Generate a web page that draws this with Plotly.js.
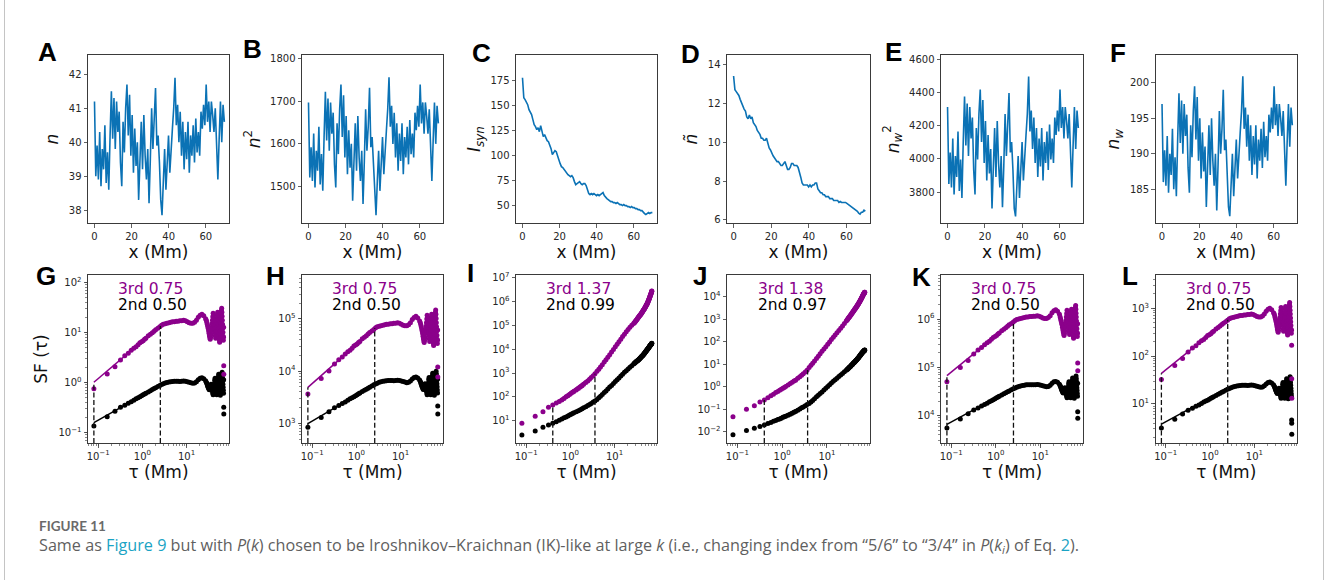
<!DOCTYPE html>
<html><head><meta charset="utf-8">
<script src="https://cdn.plot.ly/plotly-3.0.1.min.js"></script>
<style>html,body{margin:0;padding:0;background:#fff}#chart{width:1328px;height:580px}</style>
</head><body><div id="chart"></div>
<script>
// ---------- DATA: top row (spatial profiles) ----------
const X_MM = [0,0.7,1.4,2.1,2.8,3.5,4.2,4.9,5.6,6.3,7,7.7,8.4,9.1,9.8,10.5,11.2,11.9,12.6,13.3,14,14.7,15.4,16.1,16.8,17.5,18.2,18.9,19.6,20.3,21,21.7,22.4,23.1,23.8,24.5,25.2,25.9,26.6,27.3,28,28.7,29.4,30.1,30.8,31.5,32.2,32.9,33.6,34.3,35,35.7,36.4,37.1,37.8,38.5,39.2,39.9,40.6,41.3,42,42.7,43.4,44.1,44.8,45.5,46.2,46.9,47.6,48.3,49,49.7,50.4,51.1,51.8,52.5,53.2,53.9,54.6,55.3,56,56.7,57.4,58.1,58.8,59.5,60.2,60.9,61.6,62.3,63,63.7,64.4,65.1,65.8,66.5,67.2,67.9,68.6,69.3,70];
const N_A = [41.2,39.0,39.9,38.9,40.3,38.7,39.8,39.2,40.5,38.8, 39.7,38.6,40.2,41.5,40.1,41.3,39.8,41.2,40.3,40.9, 39.4,38.7,40.6,39.7,41.0,41.7,40.2,41.4,39.6,40.8, 39.1,40.4,39.3,40.0,38.3,39.5,40.6,39.2,40.8,39.6, 38.9,39.8,38.2,39.5,41.0,39.8,40.5,41.6,39.9,40.2, 39.4,38.3,37.85,38.9,39.8,38.6,39.5,40.2,39.1,40.0, 40.4,41.0,41.9,40.5,41.1,40.0,40.9,39.6,40.6,39.2, 40.3,39.5,40.6,39.1,40.2,39.6,40.5,39.4,40.7,39.7, 40.3,39.6,40.9,40.4,41.1,40.5,41.7,40.6,41.2,40.3, 41.2,40.8,40.3,41.0,39.8,38.9,40.1,41.2,40.0,41.1,40.6];
const N2_B = [1697,1521,1592,1513,1624,1498,1584,1537,1640,1505, 1576,1490,1616,1722,1608,1706,1584,1697,1624,1673, 1552,1498,1648,1576,1681,1739,1616,1714,1568,1665, 1529,1632,1544,1600,1467,1560,1648,1537,1665,1568, 1513,1584,1459,1560,1681,1584,1640,1731,1592,1616, 1552,1467,1433,1513,1584,1490,1560,1616,1529,1600, 1632,1681,1756,1640,1689,1600,1673,1568,1648,1537, 1624,1560,1648,1529,1616,1568,1640,1552,1656,1576, 1624,1568,1673,1632,1689,1640,1739,1648,1697,1624, 1697,1665,1624,1681,1584,1513,1608,1697,1600,1689,1648];
const ISYN_C = [178,158,156,154,151,146,143,141,136,131, 129,126,128,124,130,123,119,121,117,115, 114,111,107,101,103,105,104,99,96,92, 89,88,86,85,83,81,80,79,80,78, 74,71,72,73,74,72,71,72,72,70, 66,62,61,62,61,62,61,60,61,60, 61,62,63,60,58,57,56,55,54,54, 53,53,52,53,52,51,51,50,51,50, 50,49,49,48,49,48,48,47,47,46, 46,45,45,43,42,41,42,43,42,43,43];
const NTILDE_D = [13.4,12.7,12.6,12.5,12.4,12.2,12.0,11.9,11.7,11.6, 11.3,11.2,11.4,11.2,11.3,11.0,10.9,10.8,10.6,10.5, 10.4,10.2,10.2,10.1,10.1,10.2,9.9,9.7,9.6,9.4, 9.3,9.2,9.1,9.0,9.0,8.9,8.8,8.8,8.9,9.0, 8.8,8.6,8.6,8.7,8.9,8.9,8.8,8.8,8.8,8.7, 8.5,8.2,7.9,7.8,7.8,7.8,7.8,7.7,7.8,7.7, 7.8,7.8,7.9,7.9,7.6,7.5,7.4,7.4,7.3,7.3, 7.2,7.2,7.2,7.1,7.1,7.1,7.0,7.0,7.0,7.0, 6.9,6.95,6.9,6.9,6.9,6.9,6.85,6.8,6.75,6.7, 6.65,6.6,6.55,6.5,6.45,6.35,6.3,6.4,6.4,6.5,6.45];
const NW2_E = [4312,3850,4039,3829,4123,3787,4018,3892,4165,3808, 3997,3766,4102,4375,4081,4333,4018,4312,4123,4249, 3934,3787,4186,3997,4270,4417,4102,4354,3976,4228, 3871,4144,3913,4060,3703,3955,4186,3892,4228,3976, 3829,4018,3710,3955,4270,4018,4165,4396,4039,4102, 3934,3703,3655,3829,4018,3766,3955,4102,3871,4060, 4144,4270,4495,4165,4291,4060,4249,3976,4186,3892, 4123,3955,4186,3871,4102,3976,4165,3934,4207,3997, 4123,3976,4249,4144,4291,4165,4417,4186,4312,4123, 4312,4228,4123,4270,4018,3829,4081,4312,4060,4291,4186];
const NW_F = [197.0,186.0,190.5,185.5,192.5,184.5,190.0,187.0,193.5,185.0, 189.5,184.0,192.0,198.5,191.5,197.5,190.0,197.0,192.5,195.5, 188.0,184.5,194.0,189.5,196.0,199.5,192.0,198.0,189.0,195.0, 186.5,193.0,187.5,191.0,182.5,188.5,194.0,187.0,195.0,189.0, 185.5,190.0,182.0,188.5,196.0,190.0,193.5,199.0,190.5,192.0, 188.0,182.5,181.2,185.5,190.0,184.0,188.5,192.0,186.5,191.0, 193.0,196.0,200.9,193.5,196.5,191.0,195.5,189.0,194.0,187.0, 192.5,188.5,194.0,186.5,192.0,189.0,193.5,188.0,194.5,189.5, 192.5,189.0,195.5,193.0,196.5,193.5,199.5,194.0,197.0,192.5, 197.0,195.0,192.5,196.0,190.0,185.5,191.5,197.0,191.0,196.5,194.0];

// tick values for the top row
const XT_TOP = [0,20,40,60];
const YT_A = [38,39,40,41,42];
const YT_B = [1500,1600,1700,1800];
const YT_C = [50,75,100,125,150,175];
const YT_D = [6,8,10,12,14];
const YT_E = [3800,4000,4200,4400,4600];
const YT_F = [185,190,195,200];

// ---------- DATA: bottom row (structure functions, values stored as log10) ----------
const TAU = [0.08,0.16,0.24,0.32,0.4,0.48,0.56,0.64,0.72,0.8, 0.88,0.96,1.04,1.12,1.2,1.36,1.52,1.68,1.84,2.0, 2.24,2.48,2.72,2.96,3.28,3.6,4.0,4.4,4.8,5.28, 5.84,6.4,7.04,7.76,8.56,9.44,10.4,11.44,12.56,13.84, 15.2,16.72,18.4,20.24,22.24,24.48,26.96,
  28.0,28.7,29.4,30.1,30.8,31.5,32.2,32.9,33.6,34.3, 35.0,35.7,36.4,37.1,37.8,38.5,39.2,39.9,40.6,41.3, 42.0,42.7,43.4,44.1,44.8,45.5,46.2,46.9,47.6,48.3, 49.0,49.7,50.4,51.1,51.8,52.5,53.2,53.9,54.6,55.3, 56.0,56.7,57.4,58.1,58.8,59.5,60.2,60.9,61.6,62.3, 63.0,63.7,64.4,65.1,65.8,66.5,67.2,67.9,68.6,
  69.0,69.3,69.6];

const SF3_G_LOG10 = [-0.13,0.167,0.313,0.447,0.53,0.58,0.64,0.68,0.71,0.75, 0.79,0.81,0.83,0.86,0.88,0.93,0.96,0.99,1.02,1.05, 1.08,1.11,1.14,1.16,1.17,1.18,1.19,1.20,1.21,1.21, 1.22,1.22,1.23,1.23,1.24,1.23,1.21,1.19,1.18,1.18, 1.20,1.24,1.30,1.34,1.36,1.33,1.27,
  1.24,1.20,1.16,1.12,1.08,1.03,0.98,0.93,0.89,0.86, 0.90,0.96,1.03,1.10,1.17,1.24,1.31,1.38,1.34,1.28, 1.21,1.14,1.07,1.00,0.93,0.88,0.95,1.03,1.11,1.19, 1.27,1.35,1.40,1.32,1.24,1.16,1.08,1.00,0.92,0.84, 0.80,0.88,0.96,1.04,1.12,1.20,1.28,1.36,1.44,1.48, 1.40,1.32,1.24,1.16,1.08,1.00,0.92,0.84,0.90,
  1.10,0.333,0.16];
const SF2_G_LOG10 = [-0.873,-0.687,-0.58,-0.5,-0.46,-0.42,-0.39,-0.36,-0.33,-0.31, -0.29,-0.27,-0.25,-0.235,-0.22,-0.192,-0.168,-0.146,-0.126,-0.108, -0.084,-0.062,-0.045,-0.03,-0.015,-0.005,0.005,0.012,0.018,0.02, 0.022,0.02,0.018,0.02,0.025,0.02,0.01,0.0,-0.01,-0.02, -0.015,0.01,0.05,0.08,0.09,0.07,0.03,
  0.00,-0.02,-0.05,-0.08,-0.10,-0.12,-0.14,-0.15,-0.13,-0.10, -0.07,-0.04,-0.06,-0.10,-0.14,-0.18,-0.22,-0.25,-0.20,-0.14, -0.08,-0.02,0.04,0.08,0.03,-0.03,-0.09,-0.15,-0.21,-0.25, -0.19,-0.13,-0.07,-0.01,0.05,0.11,0.16,0.10,0.04,-0.02, -0.08,-0.14,-0.20,-0.26,-0.20,-0.14,-0.08,-0.02,0.04,0.10, 0.16,0.20,0.14,0.08,0.02,-0.04,-0.10,-0.16,-0.22,
  0.05,-0.5,-0.633];

const SF3_H_LOG10 = [3.56,3.857,4.003,4.137,4.22,4.27,4.33,4.37,4.40,4.44, 4.48,4.50,4.52,4.55,4.57,4.62,4.65,4.68,4.71,4.74, 4.77,4.80,4.83,4.85,4.86,4.87,4.88,4.89,4.90,4.90, 4.91,4.91,4.92,4.92,4.93,4.92,4.90,4.88,4.87,4.87, 4.89,4.93,4.99,5.03,5.05,5.02,4.96,
  4.93,4.89,4.85,4.81,4.77,4.72,4.67,4.62,4.58,4.55, 4.59,4.65,4.72,4.79,4.86,4.93,5.00,5.07,5.03,4.97, 4.90,4.83,4.76,4.69,4.62,4.57,4.64,4.72,4.80,4.88, 4.96,5.04,5.09,5.01,4.93,4.85,4.77,4.69,4.61,4.53, 4.49,4.57,4.65,4.73,4.81,4.89,4.97,5.05,5.13,5.17, 5.09,5.01,4.93,4.85,4.77,4.69,4.61,4.53,4.59,
  4.79,4.08,3.89];
const SF2_H_LOG10 = [2.927,3.113,3.22,3.30,3.34,3.38,3.41,3.44,3.47,3.49, 3.51,3.53,3.55,3.565,3.58,3.608,3.632,3.654,3.674,3.692, 3.716,3.738,3.755,3.77,3.785,3.795,3.805,3.812,3.818,3.82, 3.822,3.82,3.818,3.82,3.825,3.82,3.81,3.80,3.79,3.78, 3.785,3.81,3.85,3.88,3.89,3.87,3.83,
  3.80,3.78,3.75,3.72,3.70,3.68,3.66,3.65,3.67,3.70, 3.73,3.76,3.74,3.70,3.66,3.62,3.58,3.55,3.60,3.66, 3.72,3.78,3.84,3.88,3.83,3.77,3.71,3.65,3.59,3.55, 3.61,3.67,3.73,3.79,3.85,3.91,3.96,3.90,3.84,3.78, 3.72,3.66,3.60,3.54,3.60,3.66,3.72,3.78,3.84,3.90, 3.96,4.00,3.94,3.88,3.82,3.76,3.70,3.64,3.58,
  3.85,3.33,3.18];

const SF3_I_LOG10 = [0.89,1.19,1.38,1.56,1.66,1.74,1.81,1.87,1.93,2.0, 2.05,2.1,2.15,2.19,2.23,2.29,2.35,2.41,2.47,2.53, 2.6,2.67,2.74,2.81,2.89,2.965,3.07,3.16,3.25,3.35, 3.46,3.56,3.66,3.77,3.88,3.99,4.10,4.21,4.31,4.42, 4.53,4.63,4.73,4.83,4.92,5.00,5.08,
  5.11,5.13,5.16,5.18,5.21,5.23,5.26,5.28,5.31,5.33, 5.35,5.37,5.39,5.41,5.43,5.45,5.47,5.49,5.51,5.53, 5.55,5.57,5.59,5.61,5.63,5.65,5.67,5.69,5.71,5.73, 5.75,5.77,5.79,5.81,5.83,5.85,5.87,5.89,5.91,5.93, 5.96,5.98,6.00,6.03,6.05,6.08,6.10,6.13,6.15,6.18, 6.20,6.23,6.25,6.28,6.30,6.33,6.35,6.38,6.40,
  6.42,6.43,6.44];
const SF2_I_LOG10 = [0.40,0.57,0.72,0.82,0.89,0.96,1.02,1.07,1.12,1.16, 1.2,1.24,1.27,1.30,1.33,1.38,1.42,1.46,1.50,1.54, 1.59,1.64,1.68,1.72,1.78,1.83,1.89,1.96,2.03,2.10, 2.18,2.25,2.33,2.41,2.48,2.56,2.64,2.72,2.79,2.87, 2.95,3.03,3.10,3.17,3.24,3.31,3.38,
  3.41,3.42,3.44,3.46,3.47,3.49,3.50,3.52,3.53,3.55, 3.56,3.58,3.59,3.61,3.62,3.64,3.65,3.67,3.68,3.70, 3.71,3.73,3.74,3.76,3.77,3.79,3.80,3.82,3.83,3.85, 3.86,3.88,3.89,3.91,3.92,3.94,3.95,3.97,3.98,4.00, 4.01,4.02,4.03,4.05,4.06,4.07,4.08,4.10,4.11,4.13, 4.14,4.16,4.17,4.18,4.19,4.20,4.21,4.22,4.23,
  4.235,4.24,4.245];

const SF3_J_LOG10 = [-1.33,-1.00,-0.85,-0.68,-0.59,-0.49,-0.40,-0.33,-0.26,-0.21, -0.16,-0.11,-0.07,-0.03,0.01,0.08,0.14,0.2,0.25,0.29, 0.37,0.44,0.51,0.57,0.65,0.73,0.85,0.95,1.04,1.14, 1.25,1.35,1.46,1.57,1.67,1.78,1.89,1.99,2.10,2.20, 2.30,2.40,2.50,2.60,2.70,2.81,2.92,
  2.96,2.99,3.02,3.05,3.07,3.10,3.12,3.15,3.17,3.20, 3.22,3.25,3.27,3.30,3.32,3.34,3.36,3.39,3.41,3.43, 3.45,3.47,3.49,3.51,3.53,3.55,3.57,3.59,3.61,3.63, 3.65,3.67,3.69,3.71,3.73,3.75,3.77,3.79,3.81,3.83, 3.85,3.87,3.89,3.91,3.93,3.95,3.97,3.99,4.01,4.03, 4.05,4.07,4.09,4.11,4.12,4.14,4.15,4.17,4.18,
  4.19,4.195,4.20];
const SF2_J_LOG10 = [-2.14,-1.95,-1.85,-1.77,-1.70,-1.64,-1.59,-1.54,-1.50,-1.46, -1.43,-1.40,-1.36,-1.34,-1.31,-1.27,-1.22,-1.18,-1.14,-1.10, -1.05,-0.99,-0.94,-0.90,-0.85,-0.79,-0.75,-0.68,-0.61,-0.53, -0.45,-0.38,-0.30,-0.23,-0.15,-0.07,0.01,0.09,0.16,0.24, 0.31,0.38,0.45,0.52,0.59,0.66,0.73,
  0.76,0.78,0.80,0.82,0.84,0.86,0.87,0.89,0.91,0.93, 0.95,0.97,0.98,1.00,1.02,1.04,1.05,1.07,1.08,1.10, 1.11,1.13,1.14,1.16,1.17,1.19,1.20,1.22,1.23,1.25, 1.26,1.28,1.29,1.31,1.32,1.34,1.35,1.37,1.38,1.40, 1.41,1.43,1.44,1.46,1.47,1.48,1.49,1.51,1.52,1.53, 1.54,1.55,1.56,1.57,1.58,1.59,1.60,1.61,1.615,
  1.62,1.625,1.63];

const SF3_K_LOG10 = [4.70,4.997,5.143,5.277,5.36,5.41,5.47,5.51,5.54,5.58, 5.62,5.64,5.66,5.69,5.71,5.76,5.79,5.82,5.85,5.88, 5.91,5.94,5.97,5.99,6.00,6.01,6.02,6.03,6.04,6.04, 6.05,6.05,6.06,6.06,6.07,6.06,6.04,6.02,6.01,6.01, 6.03,6.07,6.13,6.17,6.19,6.16,6.10,
  6.04,6.00,5.96,5.92,5.88,5.83,5.78,5.73,5.69,5.66, 5.70,5.76,5.83,5.90,5.97,6.04,6.11,6.18,6.14,6.08, 6.01,5.94,5.87,5.80,5.73,5.68,5.75,5.83,5.91,5.99, 6.07,6.15,6.20,6.12,6.04,5.96,5.88,5.80,5.72,5.64, 5.60,5.68,5.76,5.84,5.92,6.00,6.08,6.16,6.24,6.28, 6.20,6.12,6.04,5.96,5.88,5.80,5.72,5.64,5.70,
  5.90,5.09,4.93];
const SF2_K_LOG10 = [3.747,3.933,4.04,4.12,4.16,4.20,4.23,4.26,4.29,4.31, 4.33,4.35,4.37,4.385,4.40,4.428,4.452,4.474,4.494,4.512, 4.536,4.558,4.575,4.59,4.605,4.615,4.625,4.632,4.638,4.64, 4.642,4.64,4.638,4.64,4.645,4.64,4.63,4.62,4.61,4.60, 4.605,4.63,4.67,4.70,4.71,4.69,4.65,
  4.62,4.60,4.57,4.54,4.52,4.50,4.48,4.47,4.49,4.52, 4.55,4.58,4.56,4.52,4.48,4.44,4.40,4.37,4.42,4.48, 4.54,4.60,4.66,4.70,4.65,4.59,4.53,4.47,4.41,4.37, 4.43,4.49,4.55,4.61,4.67,4.73,4.78,4.72,4.66,4.60, 4.54,4.48,4.42,4.36,4.42,4.48,4.54,4.60,4.66,4.72, 4.78,4.82,4.76,4.70,4.64,4.58,4.52,4.46,4.40,
  4.67,4.08,3.945];

const SF3_L_LOG10 = [1.51,1.807,1.953,2.087,2.17,2.22,2.28,2.32,2.35,2.39, 2.43,2.45,2.47,2.50,2.52,2.57,2.60,2.63,2.66,2.69, 2.72,2.75,2.78,2.80,2.81,2.82,2.83,2.84,2.85,2.85, 2.86,2.86,2.87,2.87,2.88,2.87,2.85,2.83,2.82,2.82, 2.84,2.88,2.94,2.98,3.00,2.97,2.91,
  2.88,2.84,2.80,2.76,2.72,2.67,2.62,2.57,2.53,2.50, 2.54,2.60,2.67,2.74,2.81,2.88,2.95,3.02,2.98,2.92, 2.85,2.78,2.71,2.64,2.57,2.52,2.59,2.67,2.75,2.83, 2.91,2.99,3.04,2.96,2.88,2.80,2.72,2.64,2.56,2.48, 2.44,2.52,2.60,2.68,2.76,2.84,2.92,3.00,3.08,3.12, 3.04,2.96,2.88,2.80,2.72,2.64,2.56,2.48,2.54,
  2.23,1.53,1.12];
const SF2_L_LOG10 = [0.497,0.683,0.79,0.87,0.91,0.95,0.98,1.01,1.04,1.06, 1.08,1.10,1.12,1.135,1.15,1.178,1.202,1.224,1.244,1.262, 1.286,1.308,1.325,1.34,1.355,1.365,1.375,1.382,1.388,1.39, 1.392,1.39,1.388,1.39,1.395,1.39,1.38,1.37,1.36,1.35, 1.355,1.38,1.42,1.45,1.46,1.44,1.40,
  1.37,1.35,1.32,1.29,1.27,1.25,1.23,1.22,1.24,1.27, 1.30,1.33,1.31,1.27,1.23,1.19,1.15,1.12,1.17,1.23, 1.29,1.35,1.41,1.45,1.40,1.34,1.28,1.22,1.16,1.12, 1.18,1.24,1.30,1.36,1.42,1.48,1.53,1.47,1.41,1.35, 1.29,1.23,1.17,1.11,1.17,1.23,1.29,1.35,1.41,1.47, 1.53,1.57,1.51,1.45,1.39,1.33,1.27,1.21,1.15,
  0.665,0.596,0.366];

// fit ranges (tau) and fitted-line endpoints (log10) per panel
const FIT_TAU_G = [0.08, 2.55], FIT3_G = [0.0, 1.128], FIT2_G = [-0.807, -0.055];
const FIT_TAU_H = [0.08, 2.6],  FIT3_H = [3.69, 4.82], FIT2_H = [2.993, 3.745];
const FIT_TAU_I = [0.4, 3.6],   FIT3_I = [1.66, 2.97], FIT2_I = [0.89, 1.83];
const FIT_TAU_J = [0.4, 3.7],   FIT3_J = [-0.59, 0.74], FIT2_J = [-1.70, -0.76];
const FIT_TAU_K = [0.08, 2.5],  FIT3_K = [4.83, 5.95], FIT2_K = [3.82, 4.57];
const FIT_TAU_L = [0.08, 2.5],  FIT3_L = [1.64, 2.76], FIT2_L = [0.58, 1.33];

const SLOPE3 = ['0.75','0.75','1.37','1.38','0.75','0.75'];
const SLOPE2 = ['0.50','0.50','0.99','0.97','0.50','0.50'];

// tick exponents of log axes
const XEXP_BOT = [-1,0,1];
const YEXP_G = [-1,0,1,2];
const YEXP_H = [3,4,5];
const YEXP_I = [1,2,3,4,5,6,7];
const YEXP_J = [-2,-1,0,1,2,3,4];
const YEXP_K = [4,5,6];
const YEXP_L = [1,2,3];

// ---------- LAYOUT / STYLE ----------
const W = 1328, H = 580;
const BLUE = '#0b72b5', PURPLE = '#8b008b';
const COLS = [[88,229],[302,443],[516,657],[727,870],[941,1083],[1155.5,1297]];
const TOP_Y = [(H-223.3)/H, (H-55)/H];
const BOT_Y = [(H-443)/H, (H-275)/H];
const TICKFONT = {family:'DejaVu Sans, sans-serif', size:10, color:'#262626'};
const TITLEFONT = {family:'DejaVu Sans, sans-serif', size:17, color:'#111'};

function ref(n, a){ return a + (n===1 ? '' : n); }
function key(n, a){ return a + 'axis' + (n===1 ? '' : n); }
function axBase(){
  return {showline:true, mirror:true, linecolor:'#3a3a3a', linewidth:1, ticks:'outside', ticklen:3.5,
          tickwidth:0.8, tickcolor:'#3a3a3a', showgrid:false, zeroline:false, tickfont:TICKFONT, fixedrange:true};
}
function pow10(a){ return a.map(v => Math.pow(10, v)); }
function expText(e){ return '10<sup>' + String(e).replace('-', '\u2212') + '</sup>'; }

const layout = {width:W, height:H, margin:{l:0,r:0,t:0,b:0}, paper_bgcolor:'#fff', plot_bgcolor:'#fff',
  showlegend:false, font:{family:'DejaVu Sans, sans-serif', color:'#111'}, annotations:[], shapes:[]};
const traces = [];

const topPanels = [
  {L:'A', y:N_A,      yr:[37.61,42.57], yt:YT_A, title:'<i>n</i>', lx:47, ly:52},
  {L:'B', y:N2_B,     yr:[1414,1808],   yt:YT_B, title:'<i>n</i><sup>2</sup>', lx:252, ly:49},
  {L:'C', y:ISYN_C,   yr:[32.3,200.7],  yt:YT_C, title:'<i>I</i><sub><i>syn</i></sub>', lx:481, ly:53},
  {L:'D', y:NTILDE_D, yr:[5.83,14.48],  yt:YT_D, title:'<i>ñ</i>', lx:690, ly:54},
  {L:'E', y:NW2_E,    yr:[3614,4624],   yt:YT_E, title:'<i>n</i><sub><i>w</i></sub><sup>2</sup>', lx:893, ly:52},
  {L:'F', y:NW_F,     yr:[180.2,203.9], yt:YT_F, title:'<i>n</i><sub><i>w</i></sub>', lx:1118, ly:53}
];
topPanels.forEach((p, i) => {
  const n = i + 1, c = COLS[i];
  traces.push({type:'scatter', mode:'lines', x:X_MM, y:p.y, xaxis:ref(n,'x'), yaxis:ref(n,'y'),
    line:{color:BLUE, width:1.6}, hoverinfo:'skip'});
  layout[key(n,'x')] = Object.assign(axBase(), {domain:[c[0]/W, c[1]/W], anchor:ref(n,'y'), range:[-3.5,72.5],
    tickmode:'array', tickvals:XT_TOP, ticktext:XT_TOP.map(String), title:{text:'x (Mm)', font:TITLEFONT, standoff:4}});
  layout[key(n,'y')] = Object.assign(axBase(), {domain:TOP_Y, anchor:ref(n,'x'), range:p.yr,
    tickmode:'array', tickvals:p.yt, ticktext:p.yt.map(String), title:{text:p.title, font:TITLEFONT, standoff:5}});
  layout.annotations.push({xref:'paper', yref:'paper', x:p.lx/W, y:(H-p.ly)/H, xanchor:'center', yanchor:'middle',
    text:'<b>'+p.L+'</b>', showarrow:false, font:{family:'Liberation Sans, Arial, sans-serif', size:26, color:'#000'}});
});

const botPanels = [
  {L:'G', p:SF3_G_LOG10, b:SF2_G_LOG10, ft:FIT_TAU_G, f3:FIT3_G, f2:FIT2_G, yr:[-1.214,2.146], ye:YEXP_G, minor:true, title:'SF (τ)', lx:46, ly:276},
  {L:'H', p:SF3_H_LOG10, b:SF2_H_LOG10, ft:FIT_TAU_H, f3:FIT3_H, f2:FIT2_H, yr:[2.623,5.843], ye:YEXP_H, minor:true, title:'', lx:275, ly:276},
  {L:'I', p:SF3_I_LOG10, b:SF2_I_LOG10, ft:FIT_TAU_I, f3:FIT3_I, f2:FIT2_I, yr:[0.064,7.113], ye:YEXP_I, minor:false, title:'', lx:470, ly:273},
  {L:'J', p:SF3_J_LOG10, b:SF2_J_LOG10, ft:FIT_TAU_J, f3:FIT3_J, f2:FIT2_J, yr:[-2.502,4.964], ye:YEXP_J, minor:false, title:'', lx:700, ly:276},
  {L:'K', p:SF3_K_LOG10, b:SF2_K_LOG10, ft:FIT_TAU_K, f3:FIT3_K, f2:FIT2_K, yr:[3.435,6.911], ye:YEXP_K, minor:true, title:'', lx:921, ly:277},
  {L:'L', p:SF3_L_LOG10, b:SF2_L_LOG10, ft:FIT_TAU_L, f3:FIT3_L, f2:FIT2_L, yr:[0.184,3.697], ye:YEXP_L, minor:true, title:'', lx:1130, ly:276}
];
const minorLog = {ticks:'outside', ticklen:2, tickwidth:0.6, tickcolor:'#3a3a3a', dtick:'D1', showgrid:false};
botPanels.forEach((p, i) => {
  const n = i + 7, c = COLS[i], xa = ref(n,'x'), ya = ref(n,'y');
  traces.push({type:'scatter', mode:'markers', x:TAU, y:pow10(p.b), xaxis:xa, yaxis:ya,
    marker:{color:'#000', size:5}, hoverinfo:'skip'});
  traces.push({type:'scatter', mode:'markers', x:TAU, y:pow10(p.p), xaxis:xa, yaxis:ya,
    marker:{color:PURPLE, size:5}, hoverinfo:'skip'});
  traces.push({type:'scatter', mode:'lines', x:p.ft, y:pow10(p.f3), xaxis:xa, yaxis:ya,
    line:{color:PURPLE, width:1.5}, hoverinfo:'skip'});
  traces.push({type:'scatter', mode:'lines', x:p.ft, y:pow10(p.f2), xaxis:xa, yaxis:ya,
    line:{color:'#000', width:1.5}, hoverinfo:'skip'});
  const yb = Math.pow(10, p.yr[0]);
  traces.push({type:'scatter', mode:'lines', x:[p.ft[0],p.ft[0],null,p.ft[1],p.ft[1]],
    y:[yb, Math.pow(10,p.f3[0]), null, yb, Math.pow(10,p.f3[1])], xaxis:xa, yaxis:ya,
    line:{color:'#111', width:1.3, dash:'5px,2.6px'}, hoverinfo:'skip', connectgaps:false});
  const xax = Object.assign(axBase(), {type:'log', domain:[c[0]/W, c[1]/W], anchor:ya, range:[-1.23,1.96],
    tickmode:'array', tickvals:pow10(XEXP_BOT), ticktext:XEXP_BOT.map(expText),
    minor:minorLog, title:{text:'τ (Mm)', font:TITLEFONT, standoff:5}});
  const yax = Object.assign(axBase(), {type:'log', domain:BOT_Y, anchor:xa, range:p.yr,
    tickmode:'array', tickvals:pow10(p.ye), ticktext:p.ye.map(expText),
    title:{text:p.title, font:TITLEFONT, standoff:6}});
  if (p.minor) yax.minor = minorLog;
  layout[key(n,'x')] = xax;
  layout[key(n,'y')] = yax;
  layout.annotations.push({xref:'paper', yref:'paper', x:p.lx/W, y:(H-p.ly)/H, xanchor:'center', yanchor:'middle',
    text:'<b>'+p.L+'</b>', showarrow:false, font:{family:'Liberation Sans, Arial, sans-serif', size:26, color:'#000'}});
  layout.annotations.push({xref:xa+' domain', yref:ya+' domain', x:0.2, y:0.917, xanchor:'left', yanchor:'middle',
    text:'3rd '+SLOPE3[i], showarrow:false, font:{family:'DejaVu Sans, sans-serif', size:15.5, color:PURPLE}});
  layout.annotations.push({xref:xa+' domain', yref:ya+' domain', x:0.2, y:0.822, xanchor:'left', yanchor:'middle',
    text:'2nd '+SLOPE2[i], showarrow:false, font:{family:'DejaVu Sans, sans-serif', size:15.5, color:'#000'}});
});

// caption
const LINK = '#1aa3c4';
layout.annotations.push({xref:'paper', yref:'paper', x:37/W, y:(H-526)/H, xanchor:'left', yanchor:'middle',
  text:'<b>FIGURE 11</b>', showarrow:false, font:{family:'Lato, sans-serif', size:13.5, color:'#6a6a6a'}});
layout.annotations.push({xref:'paper', yref:'paper', x:37/W, y:(H-545)/H, xanchor:'left', yanchor:'middle',
  text:'Same as <span style="color:'+LINK+'">Figure 9</span> but with <i>P</i>(<i>k</i>) chosen to be Iroshnikov\u2013Kraichnan (IK)-like at large <i>k</i> (i.e., changing index from \u201c5/6\u201d to \u201c3/4\u201d in <i>P</i>(<i>k<sub>i</sub></i>) of Eq. <span style="color:'+LINK+'">2</span>).',
  showarrow:false, font:{family:'Open Sans, sans-serif', size:16.2, color:'#5f5f5f'}});

// page frame lines
layout.shapes.push({type:'line', xref:'paper', yref:'paper', x0:4.5/W, x1:4.5/W, y0:0, y1:1, line:{color:'#c4c4c4', width:1}});
layout.shapes.push({type:'line', xref:'paper', yref:'paper', x0:1323.5/W, x1:1323.5/W, y0:0, y1:1, line:{color:'#c4c4c4', width:1}});

Plotly.newPlot('chart', traces, layout, {displayModeBar:false, staticPlot:true});
</script></body></html>
